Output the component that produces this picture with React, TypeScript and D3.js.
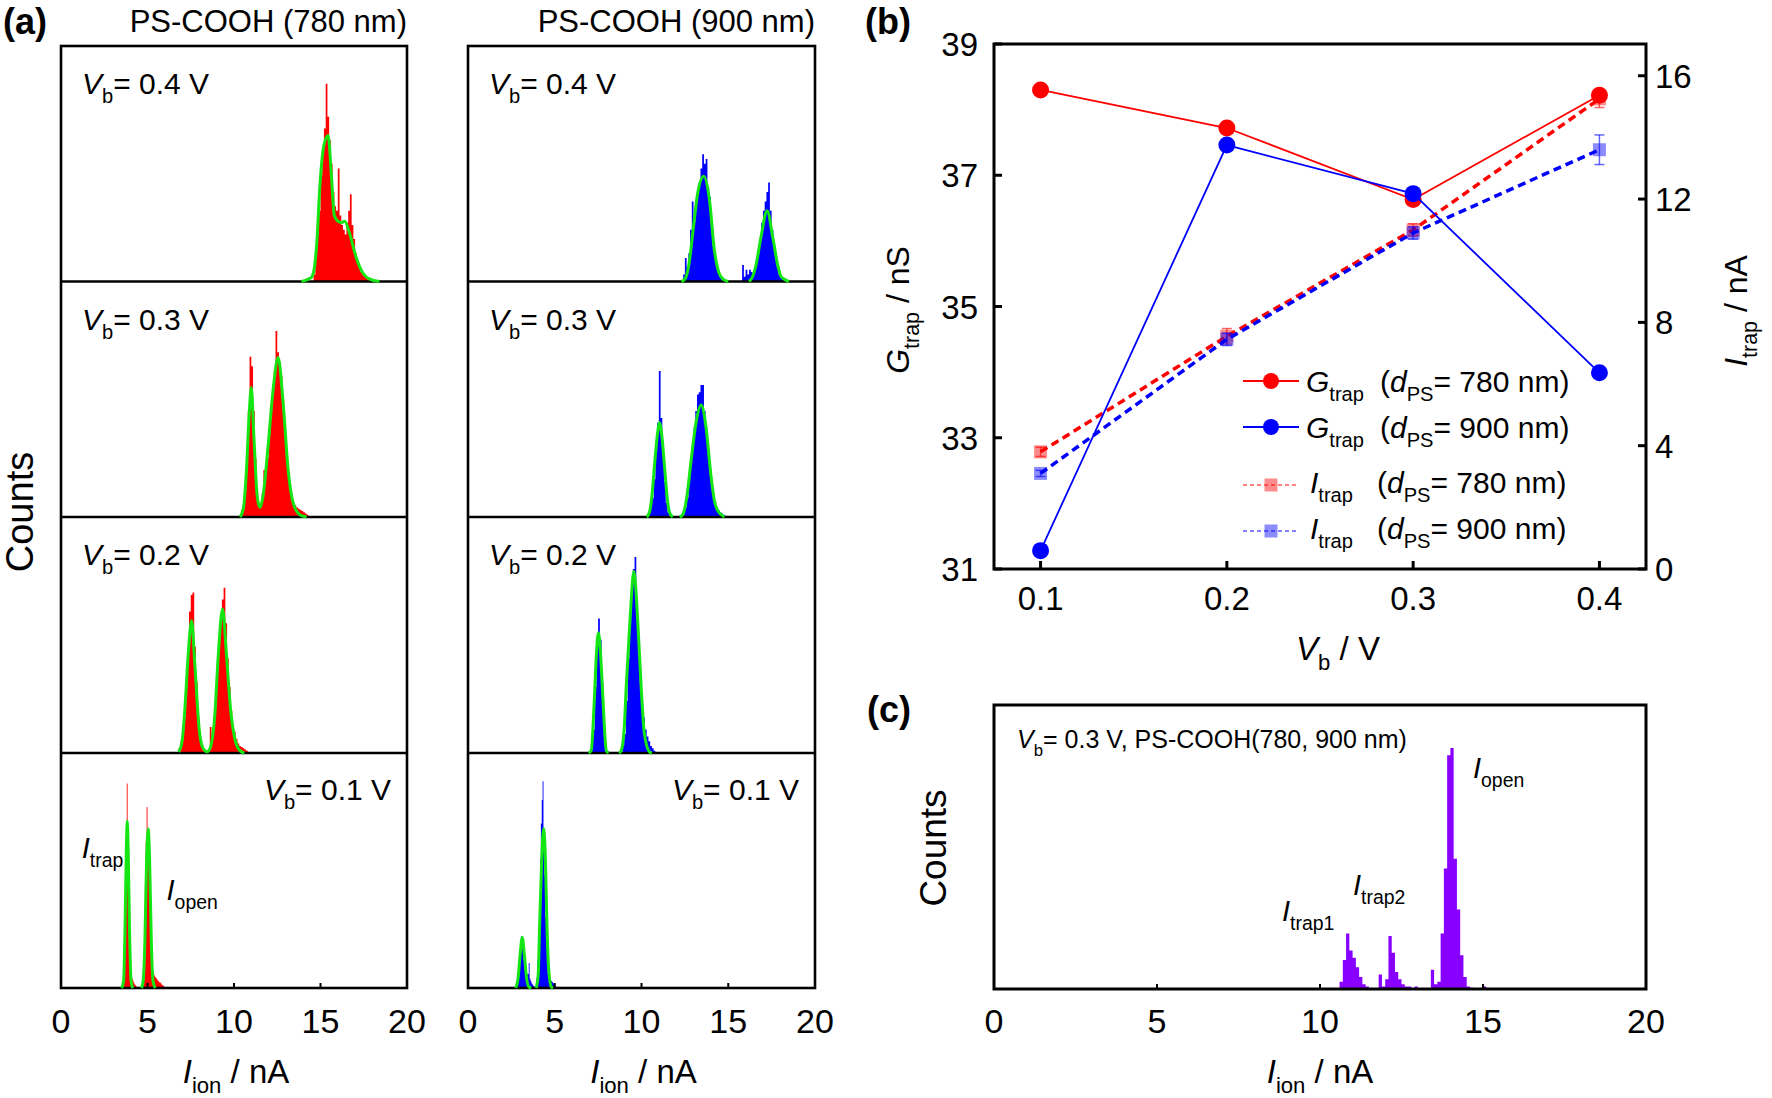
import React from 'react';
import * as d3 from 'd3';

const FONT = "'Liberation Sans', Arial, Helvetica, sans-serif";
const W = 1772;
const H = 1098;

// ---------------- Panel (a) data ----------------
const ionTicks = [0, 5, 10, 15, 20];
const biasLabels = ['0.4', '0.3', '0.2', '0.1'];
const columnTitles = ['PS-COOH (780 nm)', 'PS-COOH (900 nm)'];

// histograms: first bin start (nA), bin width (nA), counts (% of panel height)
const hist780_04 = { start: 14.6, step: 0.1, counts: [3, 10, 20, 30, 45, 55, 65, 84, 70, 60, 50, 38, 32, 30, 48, 28, 24, 22, 20, 25, 30, 37, 24, 18, 12, 9, 6, 4, 3, 2, 1.5, 1, 0.5] };
const hist780_03 = { start: 10.4, step: 0.1, counts: [3, 5, 10, 22, 45, 68, 64, 45, 25, 10, 6, 5, 10, 20, 18, 25, 35, 45, 55, 62, 79, 70, 66, 60, 50, 38, 27, 18, 12, 8, 6, 5, 4, 3.5, 3, 2.5, 2, 1.5, 1] };
const hist780_02 = { start: 6.8, step: 0.1, counts: [2, 5, 8, 15, 28, 42, 60, 67, 68, 45, 30, 15, 6, 3, 1, 0, 0, 0, 11, 6, 12, 20, 35, 48, 58, 65, 70, 55, 40, 28, 18, 12, 9, 6, 4, 3, 2.5, 2, 1.5, 1] };
const hist780_01 = { start: 3.55, step: 0.05, counts: [2, 8, 20, 45, 65, 87, 60, 35, 15, 8, 5, 4, 3, 2, 1.5, 1, 0.5, 0, 0, 0, 0, 0, 0, 2, 8, 25, 45, 62, 77, 65, 55, 40, 25, 14, 9, 7, 6, 5, 4.5, 4, 3.5, 3, 2.5, 2.5, 2, 1.5, 1.2, 1, 0.5] };
const hist900_04 = { start: 12.4, step: 0.1, counts: [3, 10, 6, 12, 22, 34, 25, 30, 38, 42, 48, 54, 50, 52, 40, 36, 25, 15, 10, 6, 4, 2, 1, 0.5, 0, 0, 0, 0, 0, 0, 0, 0, 0, 0, 7, 2, 5, 3, 5, 4, 3, 5, 8, 12, 18, 25, 30, 34, 38, 42, 30, 22, 16, 10, 6, 3, 2, 1, 0.5] };
const hist900_03 = { start: 10.4, step: 0.1, counts: [2, 4, 8, 16, 28, 40, 62, 42, 28, 15, 6, 2, 0.5, 0, 0, 0, 0, 0, 0, 0, 2, 4, 8, 14, 22, 30, 38, 45, 52, 53, 56, 56, 45, 38, 28, 20, 14, 9, 6, 4, 3, 2, 1.5, 1, 0.5] };
const hist900_02 = { start: 7.1, step: 0.1, counts: [3, 10, 28, 45, 57, 48, 30, 14, 4, 1, 0, 0, 0, 0, 0, 0, 0, 0, 3, 8, 22, 40, 55, 68, 78, 83, 65, 48, 30, 20, 15, 10, 7, 5, 3, 2, 1] };
const hist900_01 = { start: 2.8, step: 0.05, counts: [2, 5, 10, 15, 19, 22, 21, 18, 12, 8, 6, 5, 6, 6, 10.6, 4, 3, 2, 1.5, 1, 0.5, 0.5, 1, 4, 12, 25, 38, 55, 70, 80, 88, 65, 48, 30, 18, 10, 6, 4, 3.5, 3, 3, 2.5, 2, 1.5, 1, 0.5] };

// Gaussian fit curves: segments of [nA, % height]
const fit780_04 = [[[13.9, 0], [14.3, 1], [14.5, 2], [14.67, 7], [14.8, 18], [14.96, 40], [15.2, 58], [15.44, 62], [15.63, 45], [15.8, 28], [16.0, 25.6], [16.2, 25], [16.4, 25.6], [16.7, 20], [17.07, 10], [17.46, 3.5], [17.84, 1], [18.4, 0]]];
const fit780_03 = [[[10.35, 0], [10.55, 4], [10.72, 20], [10.88, 44], [11.0, 55], [11.15, 34], [11.34, 9], [11.5, 4], [11.68, 9], [11.97, 30], [12.26, 54], [12.55, 67.7], [12.84, 48.5], [13.13, 20], [13.42, 6], [13.8, 1], [14.2, 0]]];
const fit780_02 = [[[6.8, 0.5], [7.0, 5], [7.16, 18.6], [7.36, 42.5], [7.55, 56], [7.74, 37], [7.99, 10], [8.15, 3], [8.32, 1], [8.45, 0.5], [8.6, 1.7], [8.89, 16], [9.08, 40], [9.34, 61], [9.57, 41], [9.8, 18.6], [10.05, 6], [10.34, 1], [10.6, 0]]];
const fit780_01 = [
  [[3.5, 0], [3.62, 3], [3.7, 25], [3.78, 60], [3.83, 71], [3.88, 60], [3.96, 25], [4.05, 3], [4.15, 0]],
  [[4.65, 0], [4.75, 3], [4.85, 20], [4.95, 55], [5.04, 67.7], [5.12, 55], [5.22, 20], [5.32, 3], [5.45, 0]],
];
const fit900_04 = [
  [[12.3, 0], [12.5, 1], [12.75, 8], [12.96, 21], [13.24, 37.6], [13.59, 44.7], [13.92, 34.5], [14.2, 13.3], [14.45, 4], [14.7, 1], [15.0, 0]],
  [[16.2, 0], [16.4, 2], [16.6, 7], [16.89, 19], [17.24, 30], [17.56, 19], [17.85, 7], [18.05, 2], [18.23, 1], [18.5, 0]],
];
const fit900_03 = [
  [[10.3, 0], [10.46, 2], [10.6, 9], [10.75, 22], [10.9, 34], [11.04, 40], [11.18, 34], [11.32, 22], [11.47, 9], [11.61, 2], [11.8, 0]],
  [[12.2, 0], [12.38, 1], [12.6, 8], [12.86, 24], [13.15, 40.5], [13.44, 47.6], [13.73, 37.5], [14.0, 17.8], [14.2, 7], [14.4, 2.6], [14.78, 0]],
];
const fit900_02 = [
  [[6.95, 0], [7.1, 1], [7.29, 24], [7.4, 42], [7.52, 51], [7.64, 42], [7.77, 24], [7.97, 1], [8.1, 0]],
  [[8.7, 0], [8.83, 1], [9.0, 10], [9.12, 28], [9.35, 58], [9.56, 77], [9.79, 55], [9.98, 28], [10.17, 8], [10.46, 0.5], [10.6, 0]],
];
const fit900_01 = [
  [[2.75, 0], [2.9, 5], [3.0, 14], [3.13, 21.5], [3.25, 14], [3.38, 4], [3.51, 0.5], [3.65, 0]],
  [[3.93, 0], [4.05, 6], [4.13, 27], [4.25, 55], [4.36, 67.9], [4.46, 55], [4.55, 27], [4.65, 8], [4.8, 0.5], [4.9, 0]],
];

// ---------------- Panel (b) data ----------------
const vbValues = [0.1, 0.2, 0.3, 0.4];
const gTrap780 = [38.3, 37.72, 36.63, 38.22];
const gTrap900 = [31.28, 37.46, 36.72, 33.99];
const iTrap780 = [3.8, 7.55, 11.0, 15.25];
const iTrap780Err = [0.15, 0.25, 0.2, 0.28];
const iTrap900 = [3.1, 7.45, 10.9, 13.6];
const iTrap900Err = [0.1, 0.2, 0.2, 0.48];
const gTicks = [31, 33, 35, 37, 39];
const iTicks = [0, 4, 8, 12, 16];
const vbTicks = [0.1, 0.2, 0.3, 0.4];
const legendThickness = ['780', '900', '780', '900'];

// ---------------- Panel (c) data ----------------
const histC = { start: 10.6, step: 0.1, counts: [3, 12, 23, 16, 13, 9, 5, 2, 1, 0, 0, 0, 6, 1, 4, 22, 15, 7, 4, 2, 1, 1, 0, 1, 0, 0, 0, 0, 8, 2, 3, 23, 50, 97, 100, 54, 33, 14, 5, 1, 0.5, 0, 0, 0, 1] };

// ---------------- helpers ----------------
type Seg = { t: string; it?: boolean; sub?: boolean };

function Rich(props: { x: number; y: number; size: number; segs: Seg[]; anchor?: string; transform?: string; weight?: string }) {
  const { x, y, size, segs, anchor = 'start', transform, weight } = props;
  let shift = 0;
  const subShift = size * 0.3;
  const spans = segs.map((s, i) => {
    const target = s.sub ? subShift : 0;
    const dy = target - shift;
    shift = target;
    return (
      <tspan key={i} dy={dy !== 0 ? dy : undefined} fontStyle={s.it ? 'italic' : undefined} fontSize={s.sub ? size * 0.67 : undefined}>
        {s.t}
      </tspan>
    );
  });
  return (
    <text x={x} y={y} fontSize={size} textAnchor={anchor} transform={transform} fontWeight={weight} fill="#000" style={{ whiteSpace: 'pre' }}>
      {spans}
    </text>
  );
}

type Hist = { start: number; step: number; counts: number[] };

function histPath(h: Hist, x: d3.ScaleLinear<number, number>, y: d3.ScaleLinear<number, number>) {
  const pts: [number, number][] = h.counts.map((c, i) => [h.start + i * h.step, c]);
  pts.push([h.start + h.counts.length * h.step, 0]);
  const area = d3
    .area<[number, number]>()
    .x((d) => x(d[0]))
    .y0(y(0))
    .y1((d) => y(d[1]))
    .curve(d3.curveStepAfter);
  return area(pts) || '';
}

// ---------------- Panel (a) ----------------
const A_COLS = [
  { x0: 61, x1: 407 },
  { x0: 468, x1: 815 },
];
const A_ROWS = [46, 281.5, 517, 753, 988];

const panelsA = [
  { col: 0, row: 0, hist: hist780_04, fit: fit780_04 },
  { col: 0, row: 1, hist: hist780_03, fit: fit780_03 },
  { col: 0, row: 2, hist: hist780_02, fit: fit780_02 },
  { col: 0, row: 3, hist: hist780_01, fit: fit780_01 },
  { col: 1, row: 0, hist: hist900_04, fit: fit900_04 },
  { col: 1, row: 1, hist: hist900_03, fit: fit900_03 },
  { col: 1, row: 2, hist: hist900_02, fit: fit900_02 },
  { col: 1, row: 3, hist: hist900_01, fit: fit900_01 },
];
const colColors = ['#ff0000', '#0000ff'];
const FIT_GREEN = '#14e614';

function PanelA() {
  const histEls: React.ReactNode[] = [];
  const fitEls: React.ReactNode[] = [];
  const textEls: React.ReactNode[] = [];
  const frameEls: React.ReactNode[] = [];

  panelsA.forEach((p, k) => {
    const col = A_COLS[p.col];
    const x = d3.scaleLinear().domain([0, 20]).range([col.x0, col.x1]);
    const top = A_ROWS[p.row];
    const bot = A_ROWS[p.row + 1];
    const y = d3.scaleLinear().domain([0, 100]).range([bot, top]);
    histEls.push(<path key={'h' + k} d={histPath(p.hist, x, y)} fill={colColors[p.col]} />);
    const line = d3
      .line<number[]>()
      .x((d) => x(d[0]))
      .y((d) => y(d[1]))
      .curve(d3.curveMonotoneX);
    p.fit.forEach((seg, j) => {
      fitEls.push(<path key={'f' + k + '_' + j} d={line(seg) || ''} fill="none" stroke={FIT_GREEN} strokeWidth={3} strokeLinejoin="round" />);
    });
    const segs: Seg[] = [{ t: 'V', it: true }, { t: 'b', sub: true }, { t: '= ' + biasLabels[p.row] + ' V' }];
    if (p.row < 3) {
      textEls.push(<Rich key={'t' + k} x={col.x0 + 21} y={top + 48} size={30} segs={segs} />);
    } else {
      textEls.push(<Rich key={'t' + k} x={col.x1 - 16} y={top + 47} size={30} segs={segs} anchor="end" />);
    }
  });

  A_COLS.forEach((col, ci) => {
    const x = d3.scaleLinear().domain([0, 20]).range([col.x0, col.x1]);
    frameEls.push(
      <rect key={'fr' + ci} x={col.x0} y={A_ROWS[0]} width={col.x1 - col.x0} height={A_ROWS[4] - A_ROWS[0]} fill="none" stroke="#000" strokeWidth={2.6} />
    );
    [1, 2, 3].forEach((r) =>
      frameEls.push(<line key={'dv' + ci + r} x1={col.x0} x2={col.x1} y1={A_ROWS[r]} y2={A_ROWS[r]} stroke="#000" strokeWidth={2.6} />)
    );
    ionTicks.forEach((t) => {
      frameEls.push(<line key={'tk' + ci + t} x1={x(t)} x2={x(t)} y1={A_ROWS[4]} y2={A_ROWS[4] - 5} stroke="#000" strokeWidth={2} />);
      textEls.push(
        <text key={'tl' + ci + t} x={x(t)} y={1033} fontSize={34} textAnchor="middle">
          {t}
        </text>
      );
    });
    textEls.push(
      <Rich key={'xt' + ci} x={(col.x0 + col.x1) / 2 + 2} y={1083} size={33} anchor="middle" segs={[{ t: 'I', it: true }, { t: 'ion', sub: true }, { t: ' / nA' }]} />
    );
    textEls.push(
      <text key={'ct' + ci} x={col.x1} y={32} fontSize={31} textAnchor="end">
        {columnTitles[ci]}
      </text>
    );
  });

  const xl = d3.scaleLinear().domain([0, 20]).range([A_COLS[0].x0, A_COLS[0].x1]);
  return (
    <g>
      {histEls}
      {frameEls}
      {fitEls}
      {textEls}
      <text x={3} y={34} fontSize={36} fontWeight="bold">
        (a)
      </text>
      <text transform="translate(33,512) rotate(-90)" fontSize={38} textAnchor="middle">
        Counts
      </text>
      <Rich x={xl(1.2)} y={858} size={29} segs={[{ t: 'I', it: true }, { t: 'trap', sub: true }]} />
      <Rich x={xl(6.1)} y={900} size={29} segs={[{ t: 'I', it: true }, { t: 'open', sub: true }]} />
    </g>
  );
}

// ---------------- Panel (b) ----------------
const B = { left: 994, right: 1646, top: 44, bottom: 569 };

function PanelB() {
  const x = d3.scaleLinear().domain([0.075, 0.425]).range([B.left, B.right]);
  const yL = d3.scaleLinear().domain([31, 39]).range([B.bottom, B.top]);
  const yR = d3.scaleLinear().domain([0, 17.03]).range([B.bottom, B.top]);
  const lineL = d3.line<number>().x((_, i) => x(vbValues[i])).y((d) => yL(d));
  const lineR = d3.line<number>().x((_, i) => x(vbValues[i])).y((d) => yR(d));

  const iSeries = [
    { vals: iTrap780, err: iTrap780Err, color: '#ff0000', fill: 'rgba(255,0,0,0.45)', errc: 'rgba(255,0,0,0.6)' },
    { vals: iTrap900, err: iTrap900Err, color: '#0000ff', fill: 'rgba(0,0,255,0.45)', errc: 'rgba(0,0,255,0.6)' },
  ];
  const gSeries = [
    { vals: gTrap780, color: '#ff0000' },
    { vals: gTrap900, color: '#0000ff' },
  ];

  const legendRows = [
    { y: 381, kind: 'G', color: '#ff0000', fill: '', tb: 11 },
    { y: 427, kind: 'G', color: '#0000ff', fill: '', tb: 11 },
    { y: 485, kind: 'I', color: '#ff5a5a', fill: 'rgba(255,0,0,0.45)', tb: 8 },
    { y: 531, kind: 'I', color: '#5a5aff', fill: 'rgba(0,0,255,0.45)', tb: 8 },
  ];

  return (
    <g>
      {iSeries.map((s, si) => (
        <g key={'is' + si}>
          <path d={lineR(s.vals) || ''} fill="none" stroke={s.color} strokeWidth={3.5} strokeDasharray="8,5" />
          {s.vals.map((v, i) => (
            <g key={i}>
              <line x1={x(vbValues[i])} x2={x(vbValues[i])} y1={yR(v - s.err[i])} y2={yR(v + s.err[i])} stroke={s.errc} strokeWidth={1.5} />
              <line x1={x(vbValues[i]) - 5} x2={x(vbValues[i]) + 5} y1={yR(v - s.err[i])} y2={yR(v - s.err[i])} stroke={s.errc} strokeWidth={1.5} />
              <line x1={x(vbValues[i]) - 5} x2={x(vbValues[i]) + 5} y1={yR(v + s.err[i])} y2={yR(v + s.err[i])} stroke={s.errc} strokeWidth={1.5} />
              <rect x={x(vbValues[i]) - 6.5} y={yR(v) - 6.5} width={13} height={13} fill={s.fill} />
            </g>
          ))}
        </g>
      ))}
      {gSeries.map((s, si) => (
        <g key={'gs' + si}>
          <path d={lineL(s.vals) || ''} fill="none" stroke={s.color} strokeWidth={1.8} />
          {s.vals.map((v, i) => (
            <circle key={i} cx={x(vbValues[i])} cy={yL(v)} r={8.5} fill={s.color} />
          ))}
        </g>
      ))}
      <rect x={B.left} y={B.top} width={B.right - B.left} height={B.bottom - B.top} fill="none" stroke="#000" strokeWidth={3} />
      {gTicks.map((t) => (
        <g key={'gt' + t}>
          <line x1={B.left} x2={B.left + 8} y1={yL(t)} y2={yL(t)} stroke="#000" strokeWidth={3} />
          <text x={978} y={yL(t) + 12} fontSize={33} textAnchor="end">
            {t}
          </text>
        </g>
      ))}
      {iTicks.map((t) => (
        <g key={'it' + t}>
          <line x1={B.right} x2={B.right - 8} y1={yR(t)} y2={yR(t)} stroke="#000" strokeWidth={3} />
          <text x={1655} y={yR(t) + 12} fontSize={33} textAnchor="start">
            {t}
          </text>
        </g>
      ))}
      {vbTicks.map((t) => (
        <g key={'vt' + t}>
          <line x1={x(t)} x2={x(t)} y1={B.bottom} y2={B.bottom - 8} stroke="#000" strokeWidth={3} />
          <text x={x(t)} y={610} fontSize={33} textAnchor="middle">
            {t.toFixed(1)}
          </text>
        </g>
      ))}
      <Rich x={1338} y={660} size={33} anchor="middle" segs={[{ t: 'V', it: true }, { t: 'b', sub: true }, { t: ' / V' }]} />
      <Rich x={0} y={0} size={32} anchor="middle" transform="translate(909,310) rotate(-90)" segs={[{ t: 'G', it: true }, { t: 'trap', sub: true }, { t: ' / nS' }]} />
      <Rich x={0} y={0} size={32} anchor="middle" transform="translate(1747,311) rotate(-90)" segs={[{ t: 'I', it: true }, { t: 'trap', sub: true }, { t: ' / nA' }]} />
      <text x={911} y={34} fontSize={36} fontWeight="bold" textAnchor="end">
        (b)
      </text>
      {legendRows.map((r, i) => (
        <g key={'lg' + i}>
          {r.kind === 'G' ? (
            <g>
              <line x1={1243} x2={1299} y1={r.y} y2={r.y} stroke={r.color} strokeWidth={2} />
              <circle cx={1271} cy={r.y} r={8} fill={r.color} />
              <Rich x={1306} y={r.y + r.tb} size={30} segs={[{ t: 'G', it: true }, { t: 'trap', sub: true }]} />
            </g>
          ) : (
            <g>
              <line x1={1243} x2={1299} y1={r.y} y2={r.y} stroke={r.color} strokeWidth={1.5} strokeDasharray="4,3" />
              <rect x={1264.5} y={r.y - 6.5} width={13} height={13} fill={r.fill} />
              <Rich x={1310} y={r.y + r.tb} size={30} segs={[{ t: 'I', it: true }, { t: 'trap', sub: true }]} />
            </g>
          )}
          <Rich x={r.kind === 'G' ? 1380 : 1377} y={r.y + r.tb} size={30} segs={[{ t: '(' }, { t: 'd', it: true }, { t: 'PS', sub: true }, { t: '= ' + legendThickness[i] + ' nm)' }]} />
        </g>
      ))}
    </g>
  );
}

// ---------------- Panel (c) ----------------
const C = { left: 994, right: 1646, top: 705, bottom: 989 };

function PanelC() {
  const x = d3.scaleLinear().domain([0, 20]).range([C.left, C.right]);
  const y = d3.scaleLinear().domain([0, 117.8]).range([C.bottom, C.top]);
  return (
    <g>
      <path d={histPath(histC, x, y)} fill="#8800ff" />
      <rect x={C.left} y={C.top} width={C.right - C.left} height={C.bottom - C.top} fill="none" stroke="#000" strokeWidth={3} />
      {ionTicks.map((t) => (
        <g key={'ct' + t}>
          <line x1={x(t)} x2={x(t)} y1={C.bottom} y2={C.bottom - 5} stroke="#000" strokeWidth={2} />
          <text x={x(t)} y={1033} fontSize={34} textAnchor="middle">
            {t}
          </text>
        </g>
      ))}
      <Rich x={1320} y={1083} size={33} anchor="middle" segs={[{ t: 'I', it: true }, { t: 'ion', sub: true }, { t: ' / nA' }]} />
      <text transform="translate(946,848) rotate(-90)" fontSize={37} textAnchor="middle">
        Counts
      </text>
      <text x={911} y={722} fontSize={36} fontWeight="bold" textAnchor="end">
        (c)
      </text>
      <Rich x={1017} y={748} size={25} segs={[{ t: 'V', it: true }, { t: 'b', sub: true }, { t: '= 0.3 V, PS-COOH(780, 900 nm)' }]} />
      <Rich x={1282} y={921} size={29} segs={[{ t: 'I', it: true }, { t: 'trap1', sub: true }]} />
      <Rich x={1353} y={895} size={29} segs={[{ t: 'I', it: true }, { t: 'trap2', sub: true }]} />
      <Rich x={1473} y={778} size={29} segs={[{ t: 'I', it: true }, { t: 'open', sub: true }]} />
    </g>
  );
}

export default function App() {
  return (
    <svg width={W} height={H} style={{ position: 'absolute', left: 0, top: 0, display: 'block' }} fontFamily={FONT}>
      <rect width={W} height={H} fill="#fff" />
      <PanelA />
      <PanelB />
      <PanelC />
    </svg>
  );
}
